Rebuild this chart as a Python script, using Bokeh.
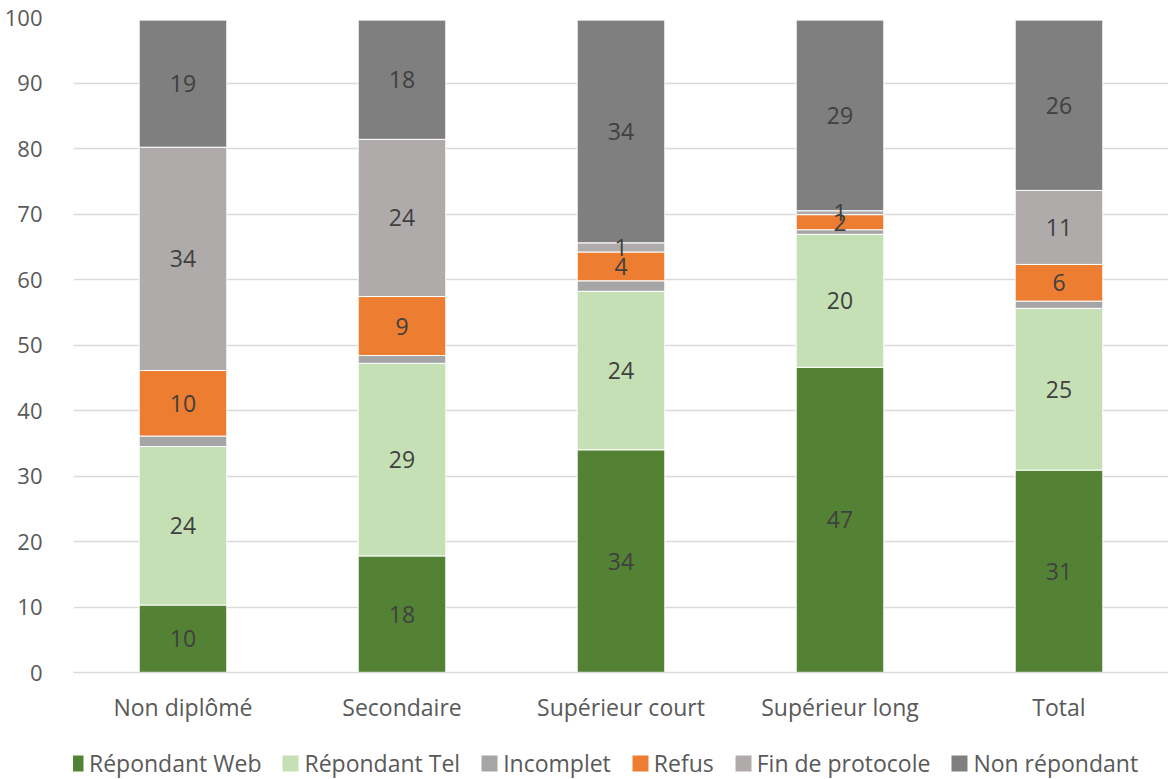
from bokeh.plotting import figure
from bokeh.layouts import column
from bokeh.models import ColumnDataSource, LabelSet, Legend, LegendItem, FactorRange, Range1d, FixedTicker
from bokeh.core.properties import value
from bokeh.embed import file_html
from bokeh.resources import INLINE

categories = ["Non diplômé", "Secondaire", "Supérieur court", "Supérieur long", "Total"]
series_names = ["Répondant Web", "Répondant Tel", "Incomplet", "Refus", "Fin de protocole", "Non répondant"]
web = [10.3, 17.8, 34.0, 46.6, 30.9]
tel = [24.2, 29.4, 24.2, 20.3, 24.7]
incomplet = [1.6, 1.2, 1.6, 0.7, 1.1]
refus = [10.0, 9.0, 4.4, 2.3, 5.6]
fin = [34.1, 24.0, 1.4, 0.6, 11.3]
non = [19.4, 18.2, 34.0, 29.1, 26.0]
colors = ["#548235", "#C5E0B4", "#A5A5A5", "#ED7D31", "#AFABAB", "#7F7F7F"]
labelled = [True, True, False, True, True, True]

series = [web, tel, incomplet, refus, fin, non]
keys = ["web", "tel", "inc", "refus", "fin", "non"]

data = {"cat": categories}
for k, s in zip(keys, series):
    data[k] = s
src = ColumnDataSource(data)

FONT = "Open Sans"
TXT = "#595959"

p = figure(x_range=FactorRange(*categories), y_range=Range1d(0, 100),
           width=1168, height=735, output_backend="svg", toolbar_location=None,
           min_border_left=73, min_border_right=0, min_border_top=17, min_border_bottom=63,
           outline_line_color=None, background_fill_color="white")
p.x_range.range_padding = 0
p.x_range.group_padding = 0

renderers = p.vbar_stack(keys, x="cat", width=0.4, source=src, color=colors,
                         line_color="white", line_width=1)

# data labels
for i, (k, s, lab) in enumerate(zip(keys, series, labelled)):
    if not lab:
        continue
    bottoms = [sum(series[j][c] for j in range(i)) for c in range(len(categories))]
    ys = [b + v / 2 for b, v in zip(bottoms, s)]
    txt = [f"{v:.0f}" for v in s]
    ls = ColumnDataSource(dict(cat=categories, y=ys, t=txt))
    p.add_layout(LabelSet(x="cat", y="y", text="t", source=ls, text_align="center",
                          text_baseline="middle", text_font=value(FONT), text_font_size="23px",
                          text_color="#404040"))

p.yaxis.ticker = FixedTicker(ticks=list(range(0, 101, 10)))
p.yaxis.axis_line_color = None
p.yaxis.major_tick_line_color = None
p.yaxis.minor_tick_line_color = None
p.yaxis.major_label_text_font = FONT
p.yaxis.major_label_text_font_size = "22px"
p.yaxis.major_label_text_color = TXT
p.yaxis.major_label_standoff = 25

p.xaxis.axis_line_color = "#D9D9D9"
p.xaxis.axis_line_width = 1.5
p.xaxis.major_tick_line_color = None
p.xaxis.minor_tick_line_color = None
p.xaxis.major_label_text_font = FONT
p.xaxis.major_label_text_font_size = "23px"
p.xaxis.major_label_text_color = TXT
p.xaxis.major_label_standoff = 12
p.xgrid.grid_line_color = None
p.ygrid.grid_line_color = "#D9D9D9"
p.ygrid.grid_line_width = 1.5

# legend strip below the chart: same stacked data, drawn out of view so only the legend shows
lg = figure(width=1168, height=44, output_backend="svg", toolbar_location=None,
            x_range=FactorRange(*categories), y_range=Range1d(1000, 1001),
            x_axis_type=None, y_axis_type=None,
            min_border=0, min_border_left=73, outline_line_color=None)
lg.xgrid.grid_line_color = None
lg.ygrid.grid_line_color = None
lg_r = lg.vbar_stack(keys, x="cat", width=0.4, source=src, color=colors, line_color=None)
items = [LegendItem(label=n, renderers=[r]) for n, r in zip(series_names, lg_r)]
legend = Legend(items=items, orientation="horizontal", location=(-8, 0),
                label_text_font=FONT, label_text_font_size="23px", label_text_color=TXT,
                glyph_width=20, glyph_height=20, label_standoff=4, spacing=19,
                border_line_color=None, background_fill_alpha=0, margin=0, padding=0)
lg.add_layout(legend, "center")

layout = column(p, lg, spacing=0)
open("out.html", "w").write(file_html(layout, INLINE))
